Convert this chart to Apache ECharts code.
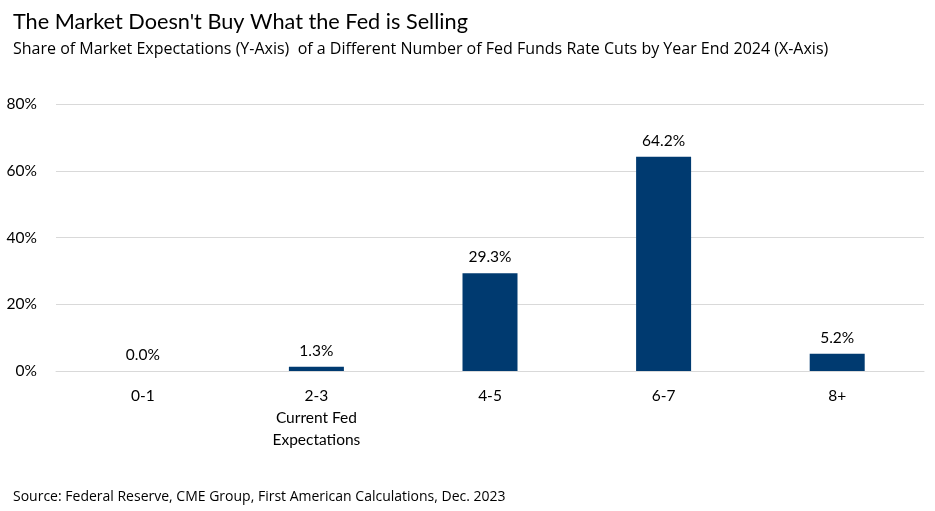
<!DOCTYPE html>
<html><head><meta charset="utf-8">
<script src="https://cdn.jsdelivr.net/npm/echarts@6/dist/echarts.min.js"></script>
<style>html,body{margin:0;padding:0;background:#fff}#c{width:935px;height:511px}</style>
</head><body><div id="c"></div>
<script>
const categories = ['0-1', '2-3\nCurrent Fed\nExpectations', '4-5', '6-7', '8+'];
const values = [0.0, 1.3, 29.3, 64.2, 5.2];
const yTicks = [0, 20, 40, 60, 80];

const chart = echarts.init(document.getElementById('c'));
chart.setOption({
  animation: false,
  title: [
    {text: "The Market Doesn't Buy What the Fed is Selling", left: 8, top: 6,
     textStyle: {fontFamily: 'Lato', fontSize: 21.7, fontWeight: 'normal', color: '#000'}},
    {text: 'Share of Market Expectations (Y-Axis)  of a Different Number of Fed Funds Rate Cuts by Year End 2024 (X-Axis)', left: 8, top: 36,
     textStyle: {fontFamily: 'Open Sans', fontSize: 16, fontWeight: 'normal', color: '#000'}},
    {text: 'Source: Federal Reserve, CME Group, First American Calculations, Dec. 2023', left: 8, top: 485,
     textStyle: {fontFamily: 'Open Sans', fontSize: 14, fontWeight: 'normal', color: '#000'}}
  ],
  grid: {left: 56, right: 11, top: 104, bottom: 140},
  xAxis: {
    type: 'category', data: categories,
    axisLine: {lineStyle: {color: '#d9d9d9', width: 1}},
    axisTick: {show: false},
    axisLabel: {fontFamily: 'Lato', fontSize: 15.5, color: '#000', margin: 14, lineHeight: 22}
  },
  yAxis: {
    type: 'value', min: 0, max: 80, interval: 20,
    axisLine: {show: false}, axisTick: {show: false},
    axisLabel: {fontFamily: 'Lato', fontSize: 15.5, color: '#000', margin: 19,
      formatter: v => yTicks.includes(v) ? v + '%' : ''},
    splitLine: {lineStyle: {color: '#d9d9d9', width: 1}}
  },
  series: [{
    type: 'bar', data: values, barWidth: 55,
    itemStyle: {color: '#003a70'},
    label: {show: true, position: 'top', distance: 8, fontFamily: 'Lato', fontSize: 15.5, color: '#000',
      formatter: p => p.value.toFixed(1) + '%'}
  }]
});
</script></body></html>
